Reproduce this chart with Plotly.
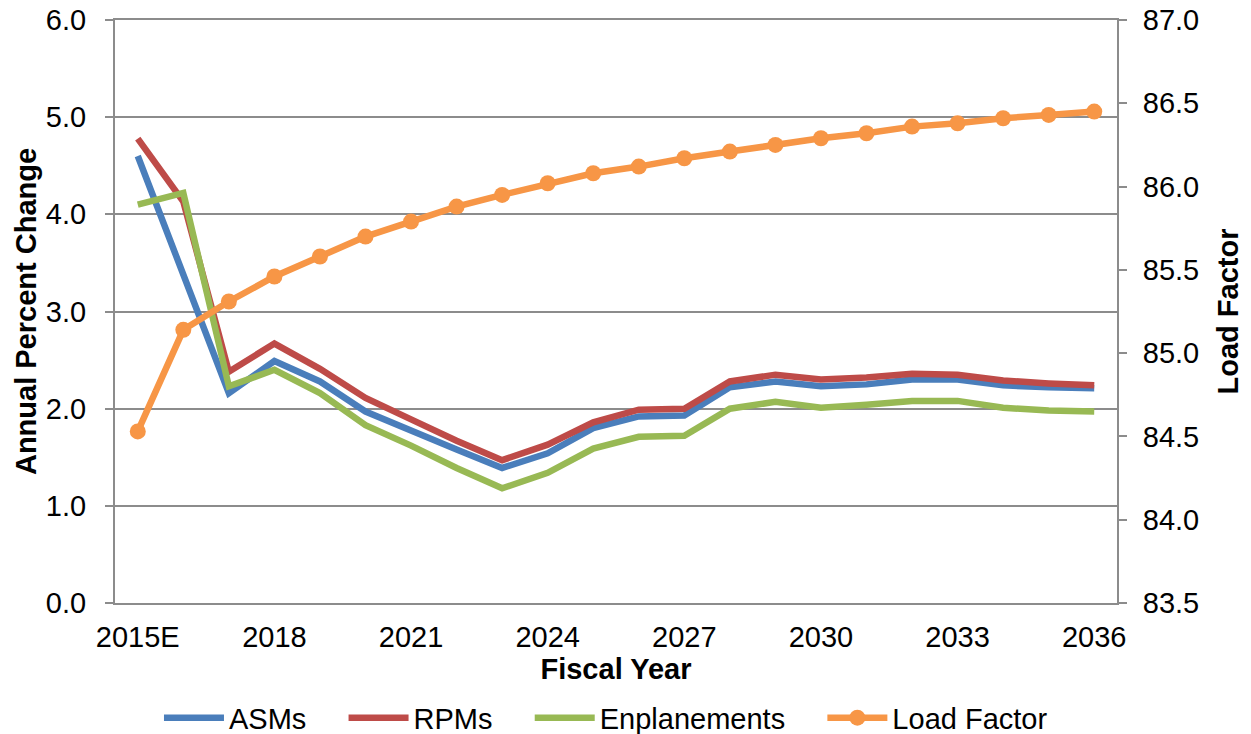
import plotly.graph_objects as go

years = ["2015E"] + [str(y) for y in range(2016, 2037)]
asms = [4.60, 3.38, 2.16, 2.49, 2.28, 1.97, 1.77, 1.58, 1.39, 1.54, 1.80, 1.92, 1.93, 2.22, 2.28, 2.23, 2.25, 2.30, 2.30, 2.24, 2.22, 2.21]
rpms = [4.78, 4.13, 2.38, 2.67, 2.41, 2.11, 1.89, 1.67, 1.47, 1.63, 1.86, 1.99, 2.00, 2.28, 2.35, 2.30, 2.32, 2.36, 2.35, 2.29, 2.26, 2.24]
enpl = [4.10, 4.22, 2.23, 2.40, 2.16, 1.83, 1.62, 1.39, 1.18, 1.34, 1.59, 1.71, 1.72, 2.00, 2.07, 2.01, 2.04, 2.08, 2.08, 2.01, 1.98, 1.97]
load_factor = [84.53, 85.14, 85.31, 85.46, 85.58, 85.70, 85.79, 85.88, 85.95, 86.02, 86.08, 86.12, 86.17, 86.21, 86.25, 86.29, 86.32, 86.36, 86.38, 86.41, 86.43, 86.45]
tick_years = ["2015E", "2018", "2021", "2024", "2027", "2030", "2033", "2036"]

FONT = "Liberation Sans, Arial, sans-serif"
FS = 29
GRID = "#8c8c8c"
PAD = "\u00a0\u00a0\u00a0\u00a0"

fig = go.Figure()
fig.add_trace(go.Scatter(x=years, y=asms, name="ASMs" + PAD, mode="lines",
                         line=dict(color="#4A7EBB", width=6.5)))
fig.add_trace(go.Scatter(x=years, y=rpms, name="RPMs" + PAD, mode="lines",
                         line=dict(color="#BE4B48", width=6.5)))
fig.add_trace(go.Scatter(x=years, y=enpl, name="Enplanements" + PAD, mode="lines",
                         line=dict(color="#98B954", width=6.5)))
fig.add_trace(go.Scatter(x=years, y=load_factor, name="Load Factor", mode="lines+markers",
                         line=dict(color="#F79646", width=6.5),
                         marker=dict(color="#F79646", size=16), yaxis="y2"))

fig.update_layout(
    width=1251, height=734,
    margin=dict(l=107, r=142, t=12, b=139, autoexpand=False),
    paper_bgcolor="white", plot_bgcolor="white",
    font=dict(family=FONT, size=FS, color="black"),
    xaxis=dict(type="category", tickvals=tick_years, ticktext=tick_years,
               showgrid=False, showline=True, linecolor=GRID, linewidth=2, mirror=True,
               ticks="", tickfont=dict(size=FS), automargin=False, ticklabelstandoff=7,
               title=dict(text="<b>Fiscal Year</b>", font=dict(size=FS), standoff=5),
               range=[-0.5, len(years) - 0.5]),
    yaxis=dict(range=[0, 6], dtick=1, tickformat=".1f", showgrid=True,
               gridcolor=GRID, gridwidth=2, showline=True, linecolor=GRID, linewidth=2,
               ticks="outside", ticklen=8, tickcolor=GRID, tickwidth=2, zeroline=False,
               automargin=False, ticklabelstandoff=13, ticklabeloverflow="allow",
               title=dict(text="<b>Annual Percent Change</b>", font=dict(size=FS), standoff=1)),
    yaxis2=dict(range=[83.5, 87], dtick=0.5, tickformat=".1f", overlaying="y", side="right",
                showgrid=False, showline=True, linecolor=GRID, linewidth=2,
                ticks="outside", ticklen=8, tickcolor=GRID, tickwidth=2, zeroline=False,
                automargin=False, ticklabelstandoff=10, ticklabeloverflow="allow",
                title=dict(text="<b>Load Factor</b>", font=dict(size=FS), standoff=19)),
    legend=dict(orientation="h", x=0.49, xanchor="center", y=-0.197, yanchor="middle",
                font=dict(size=FS), itemwidth=60, tracegroupgap=0),
    showlegend=True,
)

fig.write_html("out.html")
